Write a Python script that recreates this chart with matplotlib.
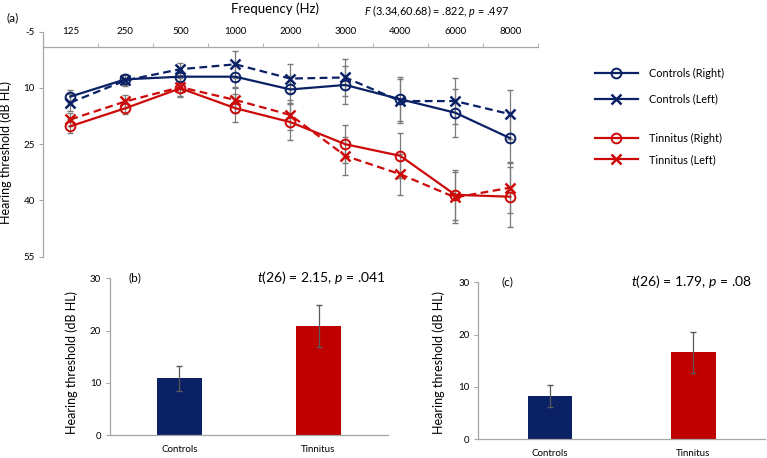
import numpy as np
import matplotlib
matplotlib.use('Agg')
import matplotlib.pyplot as plt
from matplotlib.ticker import FixedLocator

plt.rcParams['font.family'] = ['Lato', 'DejaVu Sans']
plt.rcParams['mathtext.fontset'] = 'custom'
plt.rcParams['mathtext.it'] = 'Lato:italic'
plt.rcParams['mathtext.rm'] = 'Lato'
plt.rcParams['axes.unicode_minus'] = False

# panel (a) audiogram
freqs = ['125', '250', '500', '1000', '2000', '3000', '4000', '6000', '8000']
controls_right = [12.3, 7.7, 7.0, 7.0, 10.4, 9.2, 13.0, 16.6, 23.4]
controls_left = [13.9, 8.0, 5.0, 3.7, 7.5, 7.2, 13.5, 13.5, 17.0]
tinnitus_right = [20.2, 15.4, 10.1, 15.4, 19.1, 25.0, 28.1, 38.5, 39.0]
tinnitus_left = [18.4, 13.6, 9.8, 13.2, 17.2, 28.1, 33.0, 39.2, 36.6]
err_cr = [1.8, 1.5, 1.5, 3.0, 3.5, 5.0, 5.8, 6.4, 6.6]
err_cl = [2.2, 1.5, 1.6, 3.6, 3.9, 4.9, 5.8, 6.1, 6.5]
err_tr = [1.8, 1.5, 2.0, 3.7, 4.8, 5.1, 6.0, 6.7, 8.0]
err_tl = [1.8, 1.8, 2.5, 3.5, 4.0, 5.0, 5.5, 6.7, 6.8]
yticks_a = [-5, 10, 25, 40, 55]

# panels (b) and (c)
groups = ['Controls', 'Tinnitus']
means_b = [10.9, 20.9]
err_b = [2.4, 4.0]
means_c = [8.3, 16.6]
err_c = [2.1, 4.0]

navy = '#0a2166'
red = '#cc0a0a'
gray = '#a6a6a6'
ecol = '#7a7a7a'

fig = plt.figure(figsize=(7.67, 4.58), dpi=100)

ax = fig.add_axes([0.056, 0.4395, 0.645, 0.4913])
x = np.arange(len(freqs))
ax.errorbar(x, tinnitus_right, yerr=err_tr, fmt='none', ecolor=ecol, elinewidth=0.9, capsize=2, zorder=1)
ax.errorbar(x, tinnitus_left, yerr=err_tl, fmt='none', ecolor=ecol, elinewidth=0.9, capsize=2, zorder=1)
ax.errorbar(x, controls_right, yerr=err_cr, fmt='none', ecolor=ecol, elinewidth=0.9, capsize=2, zorder=1)
ax.errorbar(x, controls_left, yerr=err_cl, fmt='none', ecolor=ecol, elinewidth=0.9, capsize=2, zorder=1)

l1, = ax.plot(x, controls_right, color=navy, lw=1.6, marker='o', ms=7, mfc='none', mew=1.4, zorder=3)
l2, = ax.plot(x, controls_left, color=navy, lw=1.6, ls=(0, (3.5, 2)), marker='x', ms=7, mew=1.8, zorder=3)
l3, = ax.plot(x, tinnitus_right, color=red, lw=1.6, marker='o', ms=7, mfc='none', mew=1.4, zorder=3)
l4, = ax.plot(x, tinnitus_left, color=red, lw=1.6, ls=(0, (3.5, 2)), marker='x', ms=7, mew=1.8, zorder=3)

ax.set_xlim(-0.5, len(freqs) - 0.5)
ax.set_ylim(55, -5)
ax.set_yticks(yticks_a)
ax.tick_params(axis='y', labelsize=7, length=3, color=gray, pad=3)
ax.xaxis.tick_top()
ax.spines['top'].set_position(('data', -0.8))
ax.set_xticks(x)
ax.set_xticklabels(freqs)
ax.xaxis.set_minor_locator(FixedLocator(np.arange(-0.5, len(freqs), 1.0)))
ax.tick_params(axis='x', which='major', length=0, labelsize=7, pad=8)
ax.tick_params(axis='x', which='minor', length=3, color=gray, direction='out')
for s in ['right', 'bottom']:
    ax.spines[s].set_visible(False)
for s in ['top', 'left']:
    ax.spines[s].set_color(gray)
    ax.spines[s].set_linewidth(0.9)
ax.set_ylabel('Hearing threshold (dB HL)', fontsize=9)
ax.yaxis.set_label_coords(-0.062, 0.465)

fig.text(0.358, 0.982, 'Frequency (Hz)', fontsize=9.5, ha='center', va='center')
fig.text(0.008, 0.962, '(a)', fontsize=8.5, ha='left', va='center')
fig.text(0.474, 0.975, '$\\it{F}$ (3.34,60.68) = .822, $\\it{p}$ = .497', fontsize=7.8, ha='left', va='center')

leg1 = fig.legend([l1, l2], ['Controls (Right)', 'Controls (Left)'], loc='center left',
                  bbox_to_anchor=(0.7625, 0.812), frameon=False, fontsize=7.8,
                  handlelength=4.0, labelspacing=1.35, handletextpad=1.0)
leg2 = fig.legend([l3, l4], ['Tinnitus (Right)', 'Tinnitus (Left)'], loc='center left',
                  bbox_to_anchor=(0.7625, 0.675), frameon=False, fontsize=7.8,
                  handlelength=4.0, labelspacing=0.95, handletextpad=1.0)
for leg in (leg1, leg2):
    for h in leg.legend_handles:
        h.set_linestyle('-')


def bar_panel(rect, means, errs, tag, stat, width, tagx, statx, ly):
    bx = fig.add_axes(rect)
    pos = np.arange(len(groups))
    bx.bar(pos, means, width=width, color=[navy, '#c00000'], zorder=2)
    bx.errorbar(pos, means, yerr=errs, fmt='none', ecolor='#595959', elinewidth=0.9, capsize=2, zorder=3)
    bx.set_xlim(-0.5, 1.5)
    bx.set_ylim(0, 30)
    bx.set_yticks([0, 10, 20, 30])
    bx.set_xticks(pos)
    bx.set_xticklabels(groups)
    bx.tick_params(axis='x', length=0, labelsize=7, pad=7)
    bx.tick_params(axis='y', length=3, color=gray, labelsize=7)
    for s in ['right', 'top']:
        bx.spines[s].set_visible(False)
    for s in ['bottom', 'left']:
        bx.spines[s].set_color(gray)
        bx.spines[s].set_linewidth(0.9)
    bx.set_ylabel('Hearing threshold (dB HL)', fontsize=9)
    bx.yaxis.set_label_coords(-0.115, ly)
    bx.text(tagx, 1.005, tag, transform=bx.transAxes, fontsize=8.5, ha='left', va='center')
    bx.text(statx, 1.005, stat, transform=bx.transAxes, fontsize=10, ha='left', va='center')
    return bx


bar_panel([0.1434, 0.0502, 0.3625, 0.342], means_b, err_b, '(b)',
          '$\\it{t}$(26) = 2.15, $\\it{p}$ = .041', 0.33, 0.066, 0.528, 0.46)
bar_panel([0.6236, 0.0408, 0.374, 0.3428], means_c, err_c, '(c)',
          '$\\it{t}$(26) = 1.79, $\\it{p}$ = .08', 0.31, 0.081, 0.534, 0.49)

fig.savefig('out.png', dpi=100)
